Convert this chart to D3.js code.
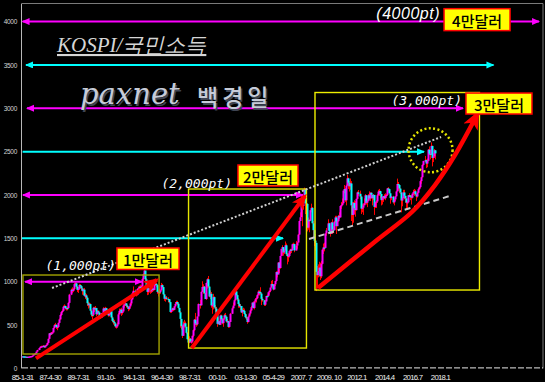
<!DOCTYPE html>
<html>
<head>
<meta charset="utf-8">
<script src="https://d3js.org/d3.v7.min.js"></script>
<style>
  html, body { margin: 0; padding: 0; background: #000; overflow: hidden; }
</style>
</head>
<body>
<script>
const width = 545, height = 382;

// KOSPI monthly close / high / low, Jan 1985 .. May 2018, one row per year
const closes = [
  139,138,137,134,134,133,134,136,140,141,146,163,
  166,175,194,212,235,249,254,257,261,243,262,272,
  294,341,404,392,413,415,466,497,503,476,478,525,
  565,616,650,664,711,720,695,697,696,756,851,907,
  893,917,972,981,941,904,918,962,949,922,891,909,
  837,842,815,752,728,742,666,620,618,699,681,696,
  625,659,644,603,582,637,691,665,695,669,631,611,
  626,660,588,548,535,519,483,485,508,623,664,678,
  639,657,725,737,749,723,710,685,715,749,796,866,
  895,875,846,916,924,942,939,949,1030,1085,1129,1027,
  930,883,921,905,893,901,919,905,971,976,961,882,
  885,879,901,961,938,854,803,817,802,798,765,651,
  674,692,676,716,744,766,746,698,647,571,488,376,
  507,520,481,410,336,298,342,310,310,376,441,562,
  519,510,599,742,728,883,939,943,868,800,985,1028,
  943,829,860,726,730,822,705,689,614,514,543,504,
  610,569,522,572,612,596,541,545,479,536,630,693,
  725,786,888,845,795,743,716,720,646,673,664,628,
  591,576,535,599,633,669,706,759,697,772,797,810,
  848,885,880,863,802,785,735,772,835,834,878,895,
  932,972,965,911,970,1008,1111,1083,1221,1158,1297,1379,
  1399,1338,1359,1420,1317,1295,1297,1353,1371,1364,1432,1434,
  1360,1417,1452,1543,1700,1743,1933,1873,1946,2064,1906,1897,
  1624,1711,1704,1825,1852,1674,1594,1474,1448,1113,1076,1124,
  1162,1063,1206,1369,1395,1390,1557,1591,1673,1580,1555,1683,
  1602,1594,1692,1741,1641,1698,1759,1742,1873,1883,1905,2051,
  2069,1939,2107,2192,2142,2101,2133,1880,1770,1909,1847,1826,
  1956,2030,2014,1982,1843,1854,1881,1905,1996,1912,1933,1997,
  1961,2026,2005,1963,2001,1863,1915,1926,1997,2039,2045,2011,
  1941,1980,1986,1962,1995,2002,2076,2068,2020,1964,1981,1916,
  1949,1985,2041,2127,2115,2074,2030,1937,1963,2029,1991,1961,
  1912,1917,1996,1994,1983,1970,2016,2034,2043,2008,1983,2026,
  2067,2091,2160,2205,2347,2392,2402,2363,2394,2523,2476,2467,
  2566,2427,2445,2515,2480
];
const highs = [
  142,140,139,138,136,135,136,138,142,143,148,165,
  170,178,196,216,238,255,262,262,268,262,265,278,
  298,345,408,412,420,425,470,510,525,505,490,530,
  575,630,660,680,725,738,725,705,710,765,860,920,
  935,925,985,1007,990,950,935,975,972,955,930,920,
  928,870,860,825,770,760,750,680,645,710,710,720,
  700,672,670,650,610,640,705,700,710,700,680,640,
  640,690,665,600,570,560,525,495,530,640,690,690,
  700,680,740,750,770,755,730,710,720,760,800,880,
  945,910,880,925,945,955,965,960,1040,1095,1138,1125,
  1040,940,935,930,920,925,940,930,985,1016,985,965,
  900,920,910,986,975,940,860,830,835,820,800,760,
  680,700,695,720,765,780,780,760,700,660,570,500,
  540,560,540,480,420,360,370,350,340,380,450,570,
  640,540,600,750,790,890,1005,970,950,870,990,1040,
  1066,950,900,880,760,860,830,730,710,620,590,550,
  620,620,580,580,630,640,600,570,550,540,640,705,
  760,795,900,937,850,810,760,740,720,690,700,690,
  640,620,590,610,640,680,720,760,770,780,810,830,
  855,900,900,936,870,820,790,790,840,850,880,900,
  935,1010,1020,970,975,1010,1120,1120,1225,1230,1300,1380,
  1420,1400,1380,1464,1440,1330,1330,1360,1380,1380,1440,1450,
  1440,1470,1460,1550,1705,1800,2005,1940,1950,2085,2050,1990,
  1900,1740,1720,1830,1900,1860,1700,1600,1550,1440,1180,1200,
  1230,1220,1240,1380,1440,1450,1560,1620,1720,1680,1600,1690,
  1720,1640,1700,1760,1760,1720,1770,1800,1880,1920,1960,2055,
  2115,2080,2120,2231,2200,2160,2190,2160,1920,1920,1940,1930,
  1960,2040,2057,2050,1990,1900,1900,1960,2010,2000,1950,2010,
  2042,2030,2030,2000,2010,2000,1920,1940,2010,2060,2070,2050,
  2011,1980,1990,2010,2020,2010,2082,2090,2070,2020,1990,1990,
  1960,1990,2050,2189,2150,2120,2080,2030,1980,2060,2060,1990,
  1960,1930,2000,2020,2000,2000,2020,2060,2070,2060,2000,2040,
  2080,2100,2170,2210,2355,2395,2450,2410,2420,2530,2560,2520,
  2607,2570,2480,2530,2520
];
const lows = [
  137,136,135,132,132,131,132,133,135,138,140,145,
  158,164,172,192,210,232,240,246,250,238,240,258,
  268,290,338,375,385,400,412,460,480,455,440,470,
  520,560,605,640,660,700,680,668,670,690,750,845,
  870,880,905,955,920,880,870,910,925,900,850,845,
  830,800,790,720,690,700,660,596,566,600,650,670,
  602,620,630,590,570,580,632,650,660,660,620,597,
  600,620,580,530,505,490,470,459,470,505,620,640,
  605,620,650,700,720,700,690,660,670,700,730,790,
  860,860,830,840,890,900,920,920,940,1010,1060,1010,
  920,845,850,875,860,870,880,890,900,950,935,860,
  830,855,860,895,920,845,780,770,790,760,750,640,
  640,660,660,670,705,735,730,690,640,470,450,351,
  380,470,470,400,330,280,290,300,285,300,360,430,
  500,480,495,600,690,725,880,860,860,800,790,920,
  930,820,800,700,630,680,700,650,600,480,510,500,
  500,555,510,480,560,580,530,530,468,470,535,630,
  690,720,780,830,780,700,700,670,640,600,650,620,
  580,560,515,530,590,620,660,700,690,680,760,760,
  800,840,840,850,730,770,720,720,770,820,830,850,
  880,930,950,900,910,950,1000,1050,1090,1100,1150,1300,
  1300,1300,1320,1360,1300,1200,1230,1280,1320,1330,1360,1390,
  1340,1360,1380,1450,1540,1700,1750,1640,1830,1930,1780,1840,
  1580,1600,1570,1700,1800,1670,1500,1410,1360,892,920,1050,
  1060,1020,1040,1200,1320,1350,1390,1530,1600,1570,1520,1550,
  1550,1560,1600,1680,1550,1640,1690,1720,1740,1840,1880,1900,
  2020,1920,1880,2100,2070,2040,2060,1700,1650,1680,1780,1750,
  1820,1950,1990,1950,1780,1800,1770,1880,1890,1890,1860,1930,
  1940,1930,1960,1880,1940,1770,1850,1850,1910,1990,1990,1960,
  1880,1890,1920,1950,1940,1970,1990,2040,2010,1900,1940,1900,
  1880,1930,1980,2040,2050,2020,2010,1800,1870,1960,1950,1910,
  1830,1830,1910,1980,1940,1890,1960,2000,1990,2000,1930,1970,
  2020,2060,2080,2130,2200,2340,2380,2310,2320,2390,2460,2410,
  2460,2330,2380,2430,2410
];

const yTicks = [0, 500, 1000, 1500, 2000, 2500, 3000, 3500, 4000];
const xTickMonths = [[1985,1],[1987,4],[1989,7],[1991,10],[1994,1],[1996,4],[1998,7],[2000,10],
                     [2003,1],[2005,4],[2007,7],[2009,10],[2012,1],[2014,4],[2016,7],[2018,10]];
const xTickLabels = ['85-1-31','87-4-30','89-7-31','91-10-','94-1-31','96-4-30','98-7-31','00-10-',
                     '03-1-30','05-4-29','2007. 7','2009. 10','2012.1','2014.4','2016.7','2018.1'];

// horizontal level arrows (t = decimal year, v = index points)
const levels = [
  {v: 4000, t0: 1985.13, t1: 2026.83, color: 'mag', both: true},
  {v: 3500, t0: 1985.41, t1: 2023.15, color: 'cyan', both: true},
  {v: 3000, t0: 1985.49, t1: 2020.69, color: 'mag', both: true},
  {v: 2500, t0: 1985.13, t1: 2017.54, color: 'cyan', both: false},
  {v: 2000, t0: 1985.16, t1: 2007.77, color: 'mag', both: true},
  {v: 1500, t0: 1985.08, t1: 2006.16, color: 'cyan', both: false},
  {v: 1000, t0: 1985.33, t1: 1994.75, color: 'mag', both: true}
];

// period boxes
const periodBoxes = [
  {t0: 1985.16, t1: 1996.15, vTop: 1077, vBot: 166, color: '#a3a300'},
  {t0: 1998.53, t1: 2008.05, vTop: 2069, vBot: 235, color: '#e6e600'},
  {t0: 2008.74, t1: 2022.02, vTop: 3182, vBot: 904, color: '#eeee00'}
];

// income tags
const tags = [
  {text: '4만달러', t0: 2019.16, t1: 2024.49, vTop: 4149, vBot: 3896},
  {text: '3만달러', t0: 2020.93, t1: 2026.26, vTop: 3176, vBot: 2934},
  {text: '2만달러', t0: 2002.52, t1: 2007.37, vTop: 2346, vBot: 2104},
  {text: '1만달러', t0: 1992.75, t1: 1997.76, vTop: 1389, vBot: 1141}
];

const ptLabels = [
  {text: '(4000pt)', t: 2018.83, v: 4035, mono: false},
  {text: '(3,000pt)', t: 2020.61, v: 3040, mono: true},
  {text: '(2,000pt)', t: 2002.04, v: 2080, mono: true},
  {text: '(1,000pt)', t: 1992.67, v: 1135, mono: true}
];

const dottedTrend = [[1987.51, 927], [2018.92, 2669]];
const dashedTrend = [[2008.26, 1492], [2019.70, 1992]];
const circleAt = [2018.07, 2516];

const redArrows = [
  [[1986.21, 116], [1995.96, 1020]],
  [[1998.78, 232], [2007.93, 1988]]
];
const redCurve = [[2008.98, 927], [2013.75, 1481], [2016.57, 1804], [2018.43, 2115], [2020.04, 2461], [2021.90, 2946]];

const x = d3.scaleLinear().domain([1985.083, 2018.833]).range([22, 440]);
const y = d3.scaleLinear().domain([0, 4000]).range([368.4, 21.6]);

const svg = d3.select('body').append('svg')
    .attr('width', width)
    .attr('height', height)
    .style('display', 'block')
    .style('background', '#000');

var defs = svg.append('defs');

function head(id, color, len, wid, notch, ref) {
  defs.append('marker')
      .attr('id', id)
      .attr('markerUnits', 'userSpaceOnUse')
      .attr('markerWidth', len + 1)
      .attr('markerHeight', wid + 1)
      .attr('viewBox', `0 0 ${len + 1} ${wid + 1}`)
      .attr('refX', ref)
      .attr('refY', wid / 2)
      .attr('orient', 'auto-start-reverse')
    .append('path')
      .attr('d', `M0,0 L${len},${wid / 2} L0,${wid} L${notch},${wid / 2} Z`)
      .attr('fill', color);
}
head('head-mag', '#ff00ff', 8, 7, 0, 7);
head('head-cyan', '#00ffff', 8, 7, 0, 7);
head('head-red', '#ff0000', 16, 13, 4, 13);
head('head-red-big', '#ff0000', 19, 16, 5, 16);

// frame
svg.append('line').attr('x1', 22).attr('x2', 543).attr('y1', 3.5).attr('y2', 3.5)
    .attr('stroke', '#7a7a7a');
svg.append('line').attr('x1', 543).attr('x2', 543).attr('y1', 3.5).attr('y2', y(0))
    .attr('stroke', '#7a7a7a');
svg.append('line').attr('x1', 21.5).attr('x2', 21.5).attr('y1', 3.5).attr('y2', y(0))
    .attr('stroke', '#b8b8b8');
svg.append('line').attr('x1', 22).attr('x2', 543).attr('y1', y(0) - 0.5).attr('y2', y(0) - 0.5)
    .attr('stroke', '#e8e8e8').attr('stroke-dasharray', '6,2');

// axes
svg.append('g')
    .attr('transform', 'translate(22,0)')
    .call(d3.axisLeft(y).tickValues(yTicks).tickFormat(d3.format('d')).tickSize(0).tickPadding(5))
    .call(g => g.select('.domain').remove())
    .call(g => g.selectAll('text')
        .attr('fill', '#d4d4d4')
        .attr('font-family', 'Liberation Sans, Arial, sans-serif')
        .attr('font-size', 6.5)
        .attr('letter-spacing', -0.3));

const xTickT = xTickMonths.map(d => d[0] + d[1] / 12);
svg.append('g')
    .attr('transform', `translate(0,${y(0)})`)
    .call(d3.axisBottom(x).tickValues(xTickT).tickFormat((d, i) => xTickLabels[i]).tickSize(0).tickPadding(6))
    .call(g => g.select('.domain').remove())
    .call(g => g.selectAll('text')
        .attr('fill', '#f0f0f0')
        .attr('font-family', 'Liberation Sans, Arial, sans-serif')
        .attr('font-size', 7.8)
        .attr('letter-spacing', -0.75));

// candles
const candles = closes.map((c, i) => ({
  t: 1985 + (i + 1) / 12,
  o: i ? closes[i - 1] : c,
  c: c,
  h: highs[i],
  l: lows[i]
}));

const cg = svg.append('g');
cg.selectAll('line')
  .data(candles)
  .join('line')
    .attr('x1', d => Math.round(x(d.t)) + 0.5)
    .attr('x2', d => Math.round(x(d.t)) + 0.5)
    .attr('y1', d => y(d.h))
    .attr('y2', d => y(d.l))
    .attr('stroke', '#ff0000')
    .attr('stroke-width', 1);
cg.selectAll('rect')
  .data(candles)
  .join('rect')
    .attr('x', d => Math.round(x(d.t)) - 0.5)
    .attr('width', 2)
    .attr('y', d => y(Math.max(d.o, d.c)))
    .attr('height', d => Math.max(1.2, Math.abs(y(d.o) - y(d.c))))
    .attr('fill', d => d.c >= d.o ? '#ff00ff' : '#00ffff');

// level arrows
svg.append('g').selectAll('line')
  .data(levels)
  .join('line')
    .attr('x1', d => x(d.t0))
    .attr('x2', d => x(d.t1))
    .attr('y1', d => y(d.v))
    .attr('y2', d => y(d.v))
    .attr('stroke', d => d.color === 'mag' ? '#ff00ff' : '#00ffff')
    .attr('stroke-width', 2)
    .attr('marker-end', d => `url(#head-${d.color})`)
    .attr('marker-start', d => d.both ? `url(#head-${d.color})` : null);

// period boxes
svg.append('g').selectAll('rect')
  .data(periodBoxes)
  .join('rect')
    .attr('x', d => x(d.t0))
    .attr('y', d => y(d.vTop))
    .attr('width', d => x(d.t1) - x(d.t0))
    .attr('height', d => y(d.vBot) - y(d.vTop))
    .attr('fill', 'none')
    .attr('stroke', d => d.color)
    .attr('stroke-width', 1.4);

// trend lines
const line = d3.line().x(d => x(d[0])).y(d => y(d[1]));
svg.append('path')
    .attr('d', line(dottedTrend))
    .attr('fill', 'none')
    .attr('stroke', '#cfcfcf')
    .attr('stroke-width', 2)
    .attr('stroke-dasharray', '2,2');
svg.append('path')
    .attr('d', line(dashedTrend))
    .attr('fill', 'none')
    .attr('stroke', '#c8c8c8')
    .attr('stroke-width', 2)
    .attr('stroke-dasharray', '6,4');

svg.append('circle')
    .attr('cx', x(circleAt[0]))
    .attr('cy', y(circleAt[1]))
    .attr('r', 22)
    .attr('fill', 'none')
    .attr('stroke', '#e4e400')
    .attr('stroke-width', 2.5)
    .attr('stroke-dasharray', '2,2.4');

// red arrows
svg.append('g').selectAll('path')
  .data(redArrows)
  .join('path')
    .attr('d', line)
    .attr('fill', 'none')
    .attr('stroke', '#ff0000')
    .attr('stroke-width', 4)
    .attr('marker-end', 'url(#head-red)');
svg.append('path')
    .attr('d', line.curve(d3.curveCatmullRom)(redCurve))
    .attr('fill', 'none')
    .attr('stroke', '#ff0000')
    .attr('stroke-width', 4.5)
    .attr('marker-end', 'url(#head-red-big)');

// point labels
svg.append('g').selectAll('text')
  .data(ptLabels)
  .join('text')
    .attr('x', d => x(d.t))
    .attr('y', d => y(d.v))
    .attr('text-anchor', 'end')
    .attr('fill', '#ffffff')
    .attr('font-style', 'italic')
    .attr('font-family', d => d.mono ? 'DejaVu Sans Mono, monospace' : 'Liberation Sans, Arial, sans-serif')
    .attr('font-size', d => d.mono ? 13 : 16)
    .attr('letter-spacing', d => d.mono ? 0 : 0.5)
    .text(d => d.text);

// income tags
const tg = svg.append('g').selectAll('g')
  .data(tags)
  .join('g');
tg.append('rect')
    .attr('x', d => x(d.t0))
    .attr('y', d => y(d.vTop))
    .attr('width', d => x(d.t1) - x(d.t0))
    .attr('height', d => y(d.vBot) - y(d.vTop))
    .attr('fill', '#ffff00')
    .attr('stroke', '#ff0000')
    .attr('stroke-width', 1.5);
tg.append('text')
    .attr('x', d => (x(d.t0) + x(d.t1)) / 2)
    .attr('y', d => (y(d.vTop) + y(d.vBot)) / 2 + 1)
    .attr('text-anchor', 'middle')
    .attr('dominant-baseline', 'central')
    .attr('fill', '#000')
    .attr('font-family', 'Noto Sans CJK KR, sans-serif')
    .attr('font-size', 15)
    .attr('font-weight', 500)
    .text(d => d.text);

// titles
svg.append('text')
    .attr('x', 57)
    .attr('y', 52)
    .attr('fill', '#d6d6d6')
    .attr('font-family', 'Liberation Serif, Times New Roman, serif')
    .attr('font-style', 'italic')
    .attr('font-size', 21)
    .attr('text-decoration', 'underline')
    .text('KOSPI/국민소득');

const pax = svg.append('g');
const paxParts = [
  {text: 'paxnet', x: 80, y: 104, family: 'DejaVu Serif, serif', size: 29, style: 'italic', weight: 400, ls: 0},
  {text: '백경일', x: 197, y: 106, family: 'Noto Sans CJK KR, sans-serif', size: 23, style: 'normal', weight: 500, ls: 4}
];
[['#3e4452', 1.5], ['#c6cbd8', 0]].forEach(([fill, off]) => {
  pax.selectAll(null)
    .data(paxParts)
    .join('text')
      .attr('x', d => d.x + off)
      .attr('y', d => d.y + off)
      .attr('fill', fill)
      .attr('font-family', d => d.family)
      .attr('font-style', d => d.style)
      .attr('font-weight', d => d.weight)
      .attr('font-size', d => d.size)
      .attr('letter-spacing', d => d.ls)
      .text(d => d.text);
});
</script>
</body>
</html>
